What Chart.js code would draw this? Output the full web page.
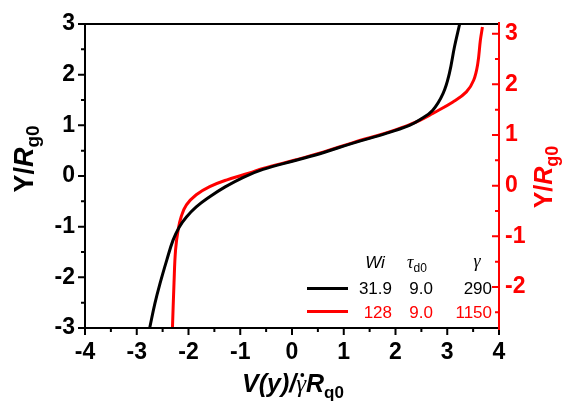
<!DOCTYPE html>
<html>
<head>
<meta charset="utf-8">
<script src="https://cdn.jsdelivr.net/npm/chart.js@4.4.1/dist/chart.umd.min.js"></script>
<style>
  body { margin: 0; background: #fff; }
  #wrap { width: 565px; height: 403px; }
</style>
</head>
<body>
<div id="wrap"><canvas id="profileChart"></canvas></div>
<script>
// black curve (left axis), Wi = 31.9
const blackX = [-2.75, -2.65, -2.55, -2.42, -2.30, -2.18, -2.04, -1.85, -1.59, -1.30, -0.95, -0.56, 0.08, 0.60, 1.18, 1.82, 2.27, 2.47, 2.72, 2.92, 3.04, 3.14, 3.24];
const blackY = [-3.00, -2.52, -2.12, -1.66, -1.27, -1.01, -0.81, -0.61, -0.41, -0.22, -0.03, 0.13, 0.31, 0.46, 0.65, 0.84, 1.00, 1.11, 1.30, 1.63, 2.02, 2.55, 3.00];
// red curve (right axis), Wi = 128
const redX = [-2.31, -2.28, -2.25, -2.20, -2.14, -2.04, -1.85, -1.59, -1.27, -0.82, -0.56, 0.08, 0.60, 1.18, 1.82, 2.08, 2.47, 2.72, 3.11, 3.37, 3.51, 3.59, 3.64, 3.68];
const redY = [-2.81, -1.92, -1.27, -0.87, -0.61, -0.38, -0.18, -0.02, 0.11, 0.25, 0.34, 0.51, 0.66, 0.85, 1.04, 1.13, 1.29, 1.425, 1.65, 1.85, 2.08, 2.41, 2.87, 3.13];

const xTicks = [-4, -3, -2, -1, 0, 1, 2, 3, 4];
const yLeftTicks = [-3, -2, -1, 0, 1, 2, 3];
const yRightTicks = [-2, -1, 0, 1, 2, 3];

// legend table
const legendWi = ['31.9', '128'];
const legendTau = ['9.0', '9.0'];
const legendGamma = ['290', '1150'];
const legendColors = ['#000000', '#ff0000'];

const FONT = '"Liberation Sans", Arial, sans-serif';

function toPoints(xs, ys) {
    return xs.map((x, i) => ({ x: x, y: ys[i] }));
}

function setTicks(values) {
    return function (scale) {
        scale.ticks = values.map(v => ({ value: v }));
    };
}

function richText(ctx, parts, x, y, angle, color) {
    ctx.save();
    ctx.translate(x, y);
    ctx.rotate(angle);
    ctx.fillStyle = color;
    ctx.textBaseline = 'alphabetic';
    let w = 0;
    parts.forEach(p => { ctx.font = p.font; p.w = ctx.measureText(p.t).width; w += p.w; });
    let cx = -w / 2;
    parts.forEach(p => {
        ctx.font = p.font;
        ctx.textAlign = 'left';
        ctx.fillText(p.t, cx, p.dy || 0);
        if (p.dot) {
            // dot above gamma-dot
            ctx.beginPath();
            ctx.arc(cx + p.w * 0.62, -p.dot, 1.9, 0, Math.PI * 2);
            ctx.fill();
        }
        cx += p.w;
    });
    ctx.restore();
}

// axis frame, minor ticks, titles and the table legend
const framePlugin = {
    id: 'frame',
    afterDatasetsDraw(chart) {
        const ctx = chart.ctx;
        const a = chart.chartArea;
        const sx = chart.scales.x, sy = chart.scales.y, sy2 = chart.scales.y2;
        ctx.save();
        ctx.lineWidth = 2;
        ctx.lineCap = 'square';

        // black frame: left, bottom, top
        ctx.strokeStyle = '#000';
        ctx.beginPath();
        ctx.moveTo(a.right, a.top); ctx.lineTo(a.left, a.top);
        ctx.lineTo(a.left, a.bottom); ctx.lineTo(a.right, a.bottom);
        ctx.stroke();

        // ticks
        function ticksFor(values, min, max) {
            const out = [];
            values.forEach(v => {
                out.push({ v: v, major: true });
                if (v + 0.5 <= max) out.push({ v: v + 0.5, major: false });
                if (v === values[0] && v - 0.5 >= min) out.push({ v: v - 0.5, major: false });
            });
            return out;
        }
        ctx.beginPath();
        ticksFor(xTicks, sx.min, sx.max).forEach(t => {
            const px = sx.getPixelForValue(t.v);
            ctx.moveTo(px, a.bottom); ctx.lineTo(px, a.bottom + (t.major ? 6 : 3));
        });
        ticksFor(yLeftTicks, sy.min, sy.max).forEach(t => {
            const py = sy.getPixelForValue(t.v);
            ctx.moveTo(a.left, py); ctx.lineTo(a.left - (t.major ? 6 : 3), py);
        });
        ctx.stroke();

        // red right axis
        ctx.strokeStyle = '#ff0000';
        ctx.beginPath();
        ctx.moveTo(a.right, a.top - 1); ctx.lineTo(a.right, a.bottom + 1);
        ticksFor(yRightTicks, sy2.min, sy2.max).forEach(t => {
            const py = sy2.getPixelForValue(t.v);
            ctx.moveTo(a.right, py); ctx.lineTo(a.right - (t.major ? 6 : 3), py);
        });
        ctx.stroke();

        // axis titles
        const yTitle = (size, sub) => [
            { t: 'Y/', font: 'bold ' + size + 'px ' + FONT },
            { t: 'R', font: 'italic bold ' + size + 'px ' + FONT },
            { t: 'g0', font: 'bold ' + sub + 'px ' + FONT, dy: 6 }
        ];
        richText(ctx, yTitle(27, 19), 33, 159, -Math.PI / 2, '#000');
        richText(ctx, yTitle(25, 18), 552, 177, -Math.PI / 2, '#ff0000');
        richText(ctx, [
            { t: 'V(y)/', font: 'italic bold 25px ' + FONT },
            { t: 'γ', font: 'italic 25px "Liberation Serif", serif', dot: 17 },
            { t: 'R', font: 'italic bold 25px ' + FONT },
            { t: 'q0', font: 'bold 17px ' + FONT, dy: 6 }
        ], 293, 392, 0, '#000');

        // legend table
        richText(ctx, [{ t: 'Wi', font: 'italic 17px ' + FONT }], 375, 268, 0, '#000');
        richText(ctx, [
            { t: 'τ', font: 'italic 18px "Liberation Serif", serif' },
            { t: 'd0', font: '12px ' + FONT, dy: 4 }
        ], 417, 268, 0, '#000');
        richText(ctx, [{ t: 'γ', font: 'italic 18px "Liberation Serif", serif' }], 477, 267, 0, '#000');

        ctx.font = '17px ' + FONT;
        ctx.textAlign = 'right';
        ctx.textBaseline = 'alphabetic';
        ctx.lineWidth = 3;
        ctx.lineCap = 'butt';
        legendWi.forEach((wi, i) => {
            const base = 294 + i * 23.5;
            const ly = 288.5 + i * 23;
            ctx.strokeStyle = legendColors[i];
            ctx.beginPath(); ctx.moveTo(307, ly); ctx.lineTo(348, ly); ctx.stroke();
            ctx.fillStyle = legendColors[i];
            ctx.fillText(wi, 392, base);
            ctx.fillText(legendTau[i], 433, base);
            ctx.fillText(legendGamma[i], 492, base);
        });
        ctx.restore();
    }
};

const ctx = document.getElementById('profileChart').getContext('2d');
const tickFont = { family: FONT, size: 23, weight: 'bold' };

const profileChart = new Chart(ctx, {
    type: 'scatter',
    data: {
        datasets: [{
            label: 'Wi 31.9',
            data: toPoints(blackX, blackY),
            yAxisID: 'y',
            showLine: true,
            borderColor: '#000000',
            borderWidth: 3,
            pointRadius: 0,
            tension: 0.4
        }, {
            label: 'Wi 128',
            data: toPoints(redX, redY),
            yAxisID: 'y2',
            showLine: true,
            borderColor: '#ff0000',
            borderWidth: 3,
            pointRadius: 0,
            tension: 0.4
        }]
    },
    options: {
        responsive: true,
        maintainAspectRatio: false,
        animation: false,
        layout: { padding: { top: 24, left: 0, right: 0, bottom: 0 } },
        plugins: { legend: { display: false }, tooltip: { enabled: false } },
        scales: {
            x: {
                type: 'linear',
                min: -4, max: 4,
                afterBuildTicks: setTicks(xTicks),
                afterFit: s => { s.height = 75; },
                grid: { display: false, drawTicks: true, tickLength: 6 },
                border: { display: false },
                ticks: { font: tickFont, color: '#000', padding: 5, maxRotation: 0, autoSkip: false }
            },
            y: {
                position: 'left',
                min: -3, max: 3,
                afterBuildTicks: setTicks(yLeftTicks),
                afterFit: s => { s.width = 85; },
                grid: { display: false, drawTicks: true, tickLength: 6 },
                border: { display: false },
                ticks: { font: tickFont, color: '#000', padding: 4, autoSkip: false }
            },
            y2: {
                position: 'right',
                min: -2.81, max: 3.19,
                afterBuildTicks: setTicks(yRightTicks),
                afterFit: s => { s.width = 66; },
                grid: { display: false, drawTicks: true, tickLength: 6 },
                border: { display: false },
                ticks: { font: tickFont, color: '#ff0000', padding: 0, autoSkip: false }
            }
        }
    },
    plugins: [framePlugin]
});
</script>
</body>
</html>
